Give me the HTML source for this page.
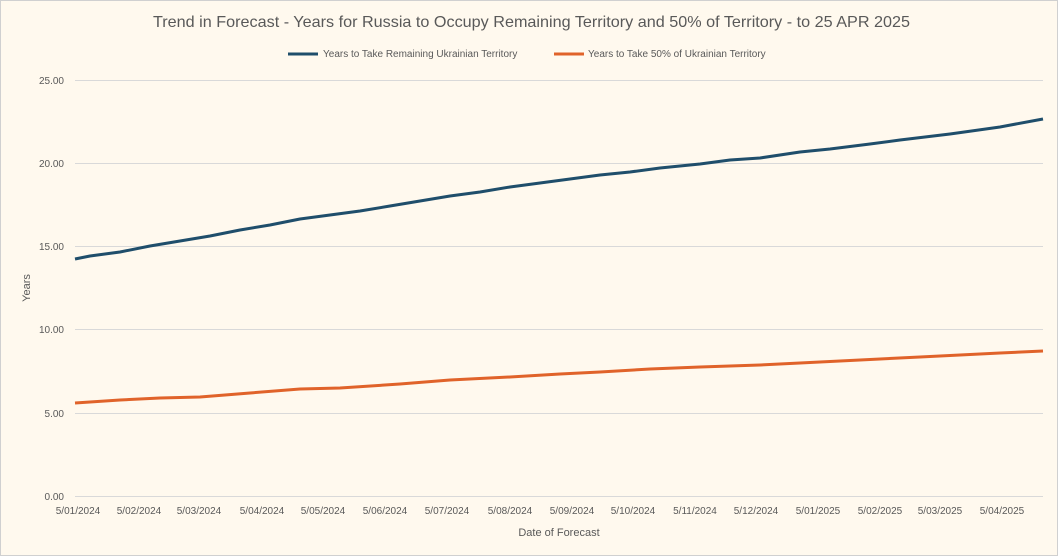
<!DOCTYPE html>
<html><head><meta charset="utf-8"><style>
body{margin:0;background:#fff;}
svg{display:block;font-family:"Liberation Sans",sans-serif;}
</style></head><body>
<svg width="1058" height="556" viewBox="0 0 1058 556" xmlns="http://www.w3.org/2000/svg">
<rect x="0.5" y="0.5" width="1057" height="555" fill="#fff9ee" stroke="#d0d0d0"/>
<text x="153" y="27" font-size="16" fill="#595959" textLength="757" lengthAdjust="spacingAndGlyphs">Trend in Forecast - Years for Russia to Occupy Remaining Territory and 50% of Territory - to 25 APR 2025</text>
<line x1="288" y1="54" x2="318" y2="54" stroke="#1f4e6b" stroke-width="3"/>
<text x="323" y="57" font-size="10" fill="#595959">Years to Take Remaining Ukrainian Territory</text>
<line x1="554" y1="54" x2="584" y2="54" stroke="#e0632a" stroke-width="3"/>
<text x="588" y="57" font-size="10" fill="#595959">Years to Take  50% of Ukrainian Territory</text>
<g stroke="#d9d9d9" stroke-width="1">
<line x1="75" y1="80.5" x2="1043" y2="80.5"/>
<line x1="75" y1="163.5" x2="1043" y2="163.5"/>
<line x1="75" y1="246.5" x2="1043" y2="246.5"/>
<line x1="75" y1="329.5" x2="1043" y2="329.5"/>
<line x1="75" y1="413.5" x2="1043" y2="413.5"/>
<line x1="75" y1="496.5" x2="1043" y2="496.5"/>
</g>
<g font-size="10" fill="#595959" text-anchor="end">
<text x="64" y="84">25.00</text>
<text x="64" y="167">20.00</text>
<text x="64" y="250">15.00</text>
<text x="64" y="333">10.00</text>
<text x="64" y="417">5.00</text>
<text x="64" y="500">0.00</text>
</g>
<text transform="translate(30,288) rotate(-90)" text-anchor="middle" font-size="11" fill="#595959">Years</text>
<g font-size="10" fill="#595959" text-anchor="middle">
<text x="78" y="514">5/01/2024</text>
<text x="139" y="514">5/02/2024</text>
<text x="199" y="514">5/03/2024</text>
<text x="262" y="514">5/04/2024</text>
<text x="323" y="514">5/05/2024</text>
<text x="385" y="514">5/06/2024</text>
<text x="447" y="514">5/07/2024</text>
<text x="510" y="514">5/08/2024</text>
<text x="572" y="514">5/09/2024</text>
<text x="633" y="514">5/10/2024</text>
<text x="695" y="514">5/11/2024</text>
<text x="756" y="514">5/12/2024</text>
<text x="818" y="514">5/01/2025</text>
<text x="880" y="514">5/02/2025</text>
<text x="940" y="514">5/03/2025</text>
<text x="1002" y="514">5/04/2025</text>
</g>
<text x="559" y="536" text-anchor="middle" font-size="11" fill="#595959">Date of Forecast</text>
<polyline fill="none" stroke="#1f4e6b" stroke-width="3" stroke-linejoin="round" points="75,259 90,256 120,252 150,246 180,241 210,236 240,230 270,225 300,219 330,215 360,211 390,206 420,201 450,196 480,192 510,187 540,183 570,179 600,175 630,172 660,168 700,164 730,160 760,158 800,152 830,149 870,144 900,140 950,134 1000,127 1043,119"/>
<polyline fill="none" stroke="#e0632a" stroke-width="3" stroke-linejoin="round" points="75,403 120,400 160,398 200,397 250,393 300,389 340,388 400,384 450,380 510,377 560,374 600,372 650,369 700,367 760,365 800,363 840,361 880,359 920,357 960,355 1000,353 1043,351"/>
</svg>
</body></html>
